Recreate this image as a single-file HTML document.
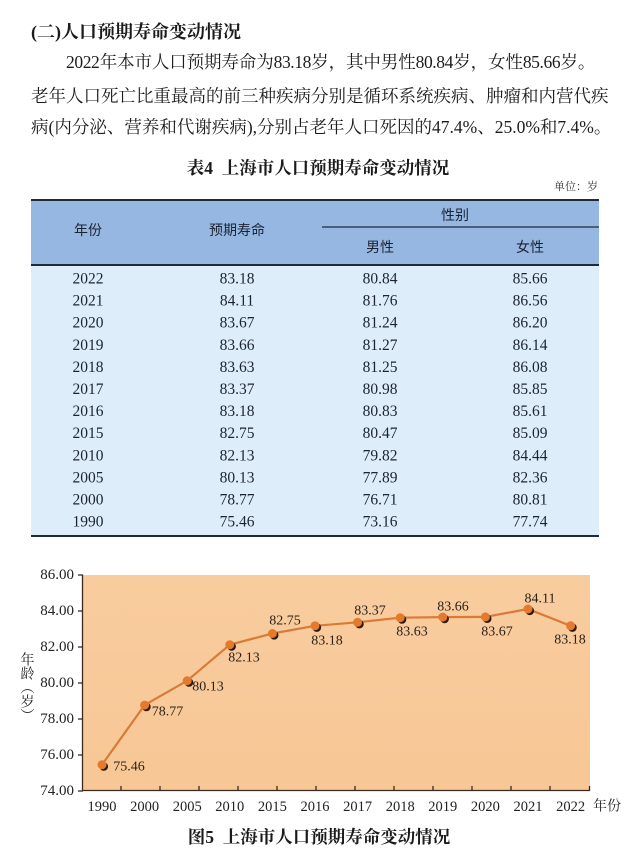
<!DOCTYPE html>
<html>
<head>
<meta charset="utf-8">
<style>
  html,body{margin:0;padding:0;background:#fff;}
  body{width:640px;height:856px;position:relative;overflow:hidden;
       font-family:"Liberation Serif","Noto Serif CJK SC",serif;color:#1c1c1c;}
  .ln{position:absolute;height:26px;line-height:26px;font-size:17.5px;white-space:nowrap;
      text-align:justify;text-align-last:justify;}
  svg{position:absolute;left:0;top:0;}
</style>
</head>
<body>
<svg width="640" height="856" viewBox="0 0 640 856" xmlns="http://www.w3.org/2000/svg">
  <!-- heading -->
  <text x="31" y="32" font-family="Liberation Serif, Noto Serif CJK SC, serif" font-size="18" font-weight="bold" dominant-baseline="central" fill="#1a1a1a">(二)人口预期寿命变动情况</text>

  <!-- table title -->
  <text x="318" y="168" text-anchor="middle" font-family="Liberation Serif, Noto Serif CJK SC, serif" font-size="17.5" font-weight="bold" dominant-baseline="central" fill="#1a1a1a">表4&#160;&#160;上海市人口预期寿命变动情况</text>
  <text x="598" y="187" text-anchor="end" font-family="Liberation Serif, Noto Serif CJK SC, serif" font-size="11" dominant-baseline="central" fill="#333">单位：岁</text>

  <!-- table -->
  <rect x="31" y="200" width="568" height="65" fill="#95b7e2"/>
  <rect x="31" y="265" width="568" height="271" fill="#ddeefa"/>
  <line x1="31" y1="200" x2="599" y2="200" stroke="#1e2a3a" stroke-width="2"/>
  <line x1="322" y1="227" x2="599" y2="227" stroke="#1e2a3a" stroke-width="1.2"/>
  <line x1="31" y1="265" x2="599" y2="265" stroke="#1e2a3a" stroke-width="2"/>
  <line x1="31" y1="536" x2="599" y2="536" stroke="#1e2a3a" stroke-width="2"/>

  <g font-family="Noto Sans CJK SC, sans-serif" font-size="14" fill="#1c2333" text-anchor="middle" dominant-baseline="central">
    <text x="88" y="230">年份</text>
    <text x="237" y="230">预期寿命</text>
    <text x="455" y="215">性别</text>
    <text x="380" y="247">男性</text>
    <text x="530" y="247">女性</text>
  </g>

  <g font-family="Liberation Serif, serif" font-size="15.5" fill="#1c2333" text-anchor="middle" dominant-baseline="central">
    <text x="88" y="279">2022</text><text x="237" y="279">83.18</text><text x="380" y="279">80.84</text><text x="530" y="279">85.66</text>
    <text x="88" y="301.1">2021</text><text x="237" y="301.1">84.11</text><text x="380" y="301.1">81.76</text><text x="530" y="301.1">86.56</text>
    <text x="88" y="323.2">2020</text><text x="237" y="323.2">83.67</text><text x="380" y="323.2">81.24</text><text x="530" y="323.2">86.20</text>
    <text x="88" y="345.3">2019</text><text x="237" y="345.3">83.66</text><text x="380" y="345.3">81.27</text><text x="530" y="345.3">86.14</text>
    <text x="88" y="367.4">2018</text><text x="237" y="367.4">83.63</text><text x="380" y="367.4">81.25</text><text x="530" y="367.4">86.08</text>
    <text x="88" y="389.5">2017</text><text x="237" y="389.5">83.37</text><text x="380" y="389.5">80.98</text><text x="530" y="389.5">85.85</text>
    <text x="88" y="411.6">2016</text><text x="237" y="411.6">83.18</text><text x="380" y="411.6">80.83</text><text x="530" y="411.6">85.61</text>
    <text x="88" y="433.7">2015</text><text x="237" y="433.7">82.75</text><text x="380" y="433.7">80.47</text><text x="530" y="433.7">85.09</text>
    <text x="88" y="455.8">2010</text><text x="237" y="455.8">82.13</text><text x="380" y="455.8">79.82</text><text x="530" y="455.8">84.44</text>
    <text x="88" y="477.9">2005</text><text x="237" y="477.9">80.13</text><text x="380" y="477.9">77.89</text><text x="530" y="477.9">82.36</text>
    <text x="88" y="500">2000</text><text x="237" y="500">78.77</text><text x="380" y="500">76.71</text><text x="530" y="500">80.81</text>
    <text x="88" y="522.1">1990</text><text x="237" y="522.1">75.46</text><text x="380" y="522.1">73.16</text><text x="530" y="522.1">77.74</text>
  </g>

  <!-- chart background -->
  <defs>
    <linearGradient id="bg" x1="0" y1="0" x2="0" y2="1">
      <stop offset="0" stop-color="#f9cc9f"/>
      <stop offset="1" stop-color="#f7c795"/>
    </linearGradient>
  </defs>
  <rect x="83" y="575" width="507" height="216" fill="url(#bg)"/>

  <!-- axes -->
  <g stroke="#3a2a20" stroke-width="1.3" fill="none">
    <line x1="82.5" y1="575" x2="82.5" y2="791"/>
    <line x1="82" y1="790.5" x2="590" y2="790.5"/>
    <line x1="78" y1="575" x2="83" y2="575"/>
    <line x1="78" y1="611" x2="83" y2="611"/>
    <line x1="78" y1="647" x2="83" y2="647"/>
    <line x1="78" y1="683" x2="83" y2="683"/>
    <line x1="78" y1="719" x2="83" y2="719"/>
    <line x1="78" y1="755" x2="83" y2="755"/>
    <line x1="78" y1="791" x2="83" y2="791"/>
    <line x1="121" y1="786" x2="121" y2="791"/>
    <line x1="160" y1="786" x2="160" y2="791"/>
    <line x1="199" y1="786" x2="199" y2="791"/>
    <line x1="238" y1="786" x2="238" y2="791"/>
    <line x1="277" y1="786" x2="277" y2="791"/>
    <line x1="316" y1="786" x2="316" y2="791"/>
    <line x1="355" y1="786" x2="355" y2="791"/>
    <line x1="394" y1="786" x2="394" y2="791"/>
    <line x1="433" y1="786" x2="433" y2="791"/>
    <line x1="472" y1="786" x2="472" y2="791"/>
    <line x1="511" y1="786" x2="511" y2="791"/>
    <line x1="550" y1="786" x2="550" y2="791"/>
    <line x1="589.5" y1="786" x2="589.5" y2="791"/>
  </g>

  <!-- y labels -->
  <g font-family="Liberation Serif, serif" font-size="15" fill="#222" text-anchor="end" dominant-baseline="central">
    <text x="74" y="575">86.00</text>
    <text x="74" y="611">84.00</text>
    <text x="74" y="647">82.00</text>
    <text x="74" y="683">80.00</text>
    <text x="74" y="719">78.00</text>
    <text x="74" y="755">76.00</text>
    <text x="74" y="791">74.00</text>
  </g>

  <!-- y axis title -->
  <text x="26" y="652" font-family="Liberation Serif, Noto Serif CJK SC, serif" font-size="14" fill="#222" style="writing-mode:vertical-rl;" >年龄（岁）</text>

  <!-- x labels -->
  <g font-family="Liberation Serif, serif" font-size="14.5" fill="#222" text-anchor="middle" dominant-baseline="central">
    <text x="102" y="807">1990</text>
    <text x="144.6" y="807">2000</text>
    <text x="187.2" y="807">2005</text>
    <text x="229.8" y="807">2010</text>
    <text x="272.4" y="807">2015</text>
    <text x="315" y="807">2016</text>
    <text x="357.6" y="807">2017</text>
    <text x="400.2" y="807">2018</text>
    <text x="442.8" y="807">2019</text>
    <text x="485.4" y="807">2020</text>
    <text x="528" y="807">2021</text>
    <text x="570.6" y="807">2022</text>
  </g>
  <text x="607" y="807" text-anchor="middle" font-family="Liberation Serif, Noto Serif CJK SC, serif" font-size="14" fill="#222" dominant-baseline="central">年份</text>

  <!-- line -->
  <polyline fill="none" stroke="#d97b38" stroke-width="2.2" stroke-linejoin="round"
    points="102,764.7 144.6,705.1 187.2,680.7 229.8,644.7 272.4,633.5 315,625.8 357.6,622.3 400.2,617.7 442.8,617.1 485.4,616.9 528,609 570.6,625.8"/>

  <!-- marker shadows -->
  <g fill="#2b1a10">
    <circle cx="103.8" cy="766.5" r="4.3"/>
    <circle cx="146.4" cy="706.9" r="4.3"/>
    <circle cx="189" cy="682.5" r="4.3"/>
    <circle cx="231.6" cy="646.5" r="4.3"/>
    <circle cx="274.2" cy="635.3" r="4.3"/>
    <circle cx="316.8" cy="627.6" r="4.3"/>
    <circle cx="359.4" cy="624.1" r="4.3"/>
    <circle cx="402" cy="619.5" r="4.3"/>
    <circle cx="444.6" cy="618.9" r="4.3"/>
    <circle cx="487.2" cy="618.7" r="4.3"/>
    <circle cx="529.8" cy="610.8" r="4.3"/>
    <circle cx="572.4" cy="627.6" r="4.3"/>
  </g>
  <g fill="#e47a2c">
    <circle cx="102" cy="764.7" r="4.5"/>
    <circle cx="144.6" cy="705.1" r="4.5"/>
    <circle cx="187.2" cy="680.7" r="4.5"/>
    <circle cx="229.8" cy="644.7" r="4.5"/>
    <circle cx="272.4" cy="633.5" r="4.5"/>
    <circle cx="315" cy="625.8" r="4.5"/>
    <circle cx="357.6" cy="622.3" r="4.5"/>
    <circle cx="400.2" cy="617.7" r="4.5"/>
    <circle cx="442.8" cy="617.1" r="4.5"/>
    <circle cx="485.4" cy="616.9" r="4.5"/>
    <circle cx="528" cy="609" r="4.5"/>
    <circle cx="570.6" cy="625.8" r="4.5"/>
  </g>

  <!-- data labels -->
  <g font-family="Liberation Serif, serif" font-size="14" fill="#2a2218" text-anchor="middle" dominant-baseline="central">
    <text x="129" y="767">75.46</text>
    <text x="167.5" y="712">78.77</text>
    <text x="208" y="687">80.13</text>
    <text x="244" y="658">82.13</text>
    <text x="285" y="621">82.75</text>
    <text x="327" y="641">83.18</text>
    <text x="370" y="611">83.37</text>
    <text x="412" y="632">83.63</text>
    <text x="453" y="607">83.66</text>
    <text x="497" y="632">83.67</text>
    <text x="540" y="599">84.11</text>
    <text x="570" y="640">83.18</text>
  </g>

  <!-- caption -->
  <text x="319" y="837" text-anchor="middle" font-family="Liberation Serif, Noto Serif CJK SC, serif" font-size="17.5" font-weight="bold" dominant-baseline="central" fill="#1a1a1a">图5&#160;&#160;上海市人口预期寿命变动情况</text>
</svg>

<div class="ln" style="left:66px;top:49px;width:529px;letter-spacing:-0.4px;">2022年本市人口预期寿命为83.18岁，其中男性80.84岁，女性85.66岁。</div>
<div class="ln" style="left:31px;top:83px;width:568px;">老年人口死亡比重最高的前三种疾病分别是循环系统疾病、肿瘤和内营代疾</div>
<div class="ln" style="left:31px;top:114px;width:561px;">病(内分泌、营养和代谢疾病),分别占老年人口死因的47.4%、25.0%和7.4%。</div>
</body>
</html>
